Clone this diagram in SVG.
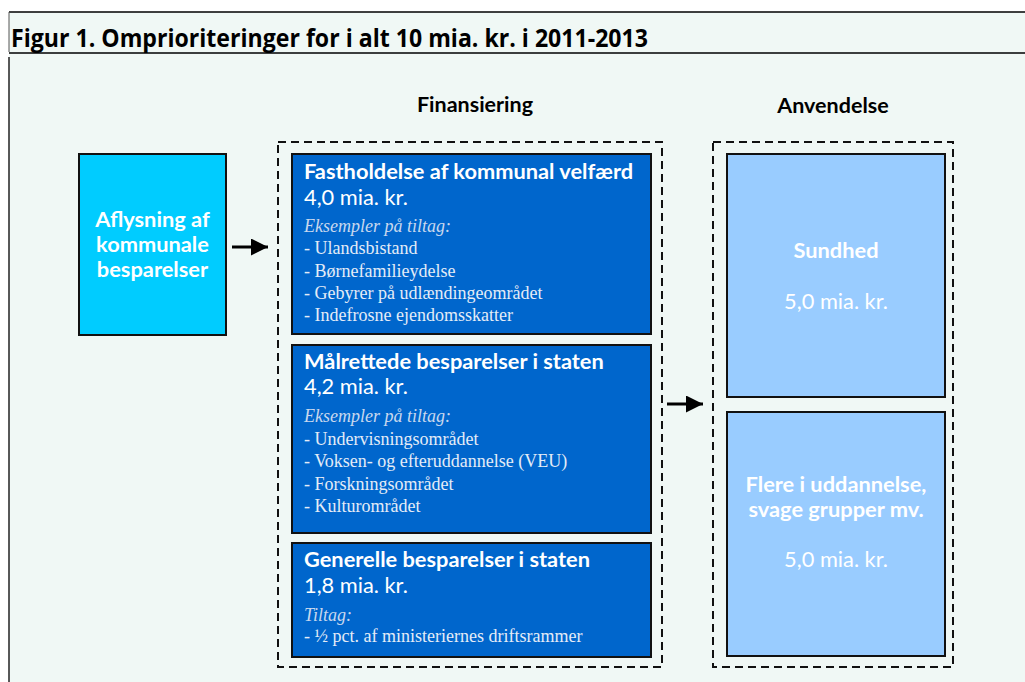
<svg xmlns="http://www.w3.org/2000/svg" width="1025" height="682" viewBox="0 0 1025 682">
<style>
.hdr{font-family:Lato,"Open Sans","Liberation Sans",sans-serif;font-weight:bold;font-size:21.5px;fill:#000;text-anchor:middle}
.nodeT{font-family:Lato,"Open Sans","Liberation Sans",sans-serif;font-weight:bold;font-size:21.8px;fill:#fff}
.nodeA{font-family:Lato,"Open Sans","Liberation Sans",sans-serif;font-size:21.8px;fill:#fff}
.ex{font-family:"Liberation Serif","DejaVu Serif",serif;font-style:italic;font-size:18px;fill:#c8d8ee}
.it{font-family:"Liberation Serif","DejaVu Serif",serif;font-size:18px;fill:#e4ecf7}
.dark{fill:#0066cc;stroke:#111;stroke-width:2}
.light{fill:#99ccff;stroke:#111;stroke-width:2}
.dash{fill:none;stroke:#111;stroke-width:2;stroke-dasharray:8 5}
.mid{text-anchor:middle}
</style>
<defs>
<marker id="ah" markerWidth="17" markerHeight="17" refX="17" refY="8.5" orient="auto" markerUnits="userSpaceOnUse">
<path d="M0,0 L17,8.5 L0,17 Z" fill="#000"/>
</marker>
</defs>
<rect x="0" y="0" width="1025" height="682" fill="#fff"/>
<rect x="9" y="12" width="1016" height="670" fill="#f0f8f5"/>
<line x1="9" y1="12" x2="1025" y2="12" stroke="#000" stroke-width="1.5"/>
<line x1="9" y1="53" x2="1025" y2="53" stroke="#000" stroke-width="1.5"/>
<line x1="9" y1="12" x2="9" y2="52" stroke="#555" stroke-width="1"/>
<line x1="9" y1="57" x2="9" y2="682" stroke="#222" stroke-width="1.5"/>
<text x="11" y="47" font-family="'Open Sans','Liberation Sans',sans-serif" font-weight="bold" font-size="25" fill="#000" textLength="637" lengthAdjust="spacingAndGlyphs">Figur 1. Omprioriteringer for i alt 10 mia. kr. i 2011-2013</text>

<text class="hdr" x="475" y="112">Finansiering</text>
<text class="hdr" x="833" y="113">Anvendelse</text>

<g id="connectors">
<line x1="232" y1="247" x2="268" y2="247" stroke="#000" stroke-width="3" marker-end="url(#ah)"/>
<line x1="667" y1="404" x2="703" y2="404" stroke="#000" stroke-width="3" marker-end="url(#ah)"/>
</g>

<g id="aflysning">
<rect x="79" y="154" width="147" height="181" fill="#00ccff" stroke="#111" stroke-width="2"/>
<text class="nodeT mid" x="152.5" y="227">Aflysning af</text>
<text class="nodeT mid" x="152.5" y="252">kommunale</text>
<text class="nodeT mid" x="152.5" y="277">besparelser</text>
</g>

<g id="finansiering">
<rect class="dash" x="278" y="142" width="384" height="525"/>
</g>

<g id="fastholdelse">
<rect class="dark" x="292" y="154" width="359" height="180"/>
<text class="nodeT" x="304" y="179">Fastholdelse af kommunal velfærd</text>
<text class="nodeA" x="304" y="205">4,0 mia. kr.</text>
<text class="ex" x="304" y="232">Eksempler på tiltag:</text>
<text class="it" x="304" y="254">- Ulandsbistand</text>
<text class="it" x="304" y="277">- Børnefamilieydelse</text>
<text class="it" x="304" y="299">- Gebyrer på udlændingeområdet</text>
<text class="it" x="304" y="321">- Indefrosne ejendomsskatter</text>
</g>

<g id="maalrettede">
<rect class="dark" x="292" y="345" width="359" height="188"/>
<text class="nodeT" x="304" y="369">Målrettede besparelser i staten</text>
<text class="nodeA" x="304" y="394">4,2 mia. kr.</text>
<text class="ex" x="304" y="422">Eksempler på tiltag:</text>
<text class="it" x="304" y="445">- Undervisningsområdet</text>
<text class="it" x="304" y="467">- Voksen- og efteruddannelse (VEU)</text>
<text class="it" x="304" y="490">- Forskningsområdet</text>
<text class="it" x="304" y="512">- Kulturområdet</text>
</g>

<g id="generelle">
<rect class="dark" x="292" y="543" width="359" height="114"/>
<text class="nodeT" x="304" y="567">Generelle besparelser i staten</text>
<text class="nodeA" x="304" y="593">1,8 mia. kr.</text>
<text class="ex" x="304" y="621">Tiltag:</text>
<text class="it" x="304" y="642">- ½ pct. af ministeriernes driftsrammer</text>
</g>

<g id="anvendelse">
<rect class="dash" x="713" y="142" width="240" height="525"/>
</g>

<g id="sundhed">
<rect class="light" x="727" y="154" width="218" height="243"/>
<text class="nodeT mid" x="836" y="258">Sundhed</text>
<text class="nodeA mid" x="836" y="309">5,0 mia. kr.</text>
</g>

<g id="uddannelse">
<rect class="light" x="727" y="412" width="218" height="244"/>
<text class="nodeT mid" x="836" y="492">Flere i uddannelse,</text>
<text class="nodeT mid" x="836" y="517">svage grupper mv.</text>
<text class="nodeA mid" x="836" y="567">5,0 mia. kr.</text>
</g>
</svg>
